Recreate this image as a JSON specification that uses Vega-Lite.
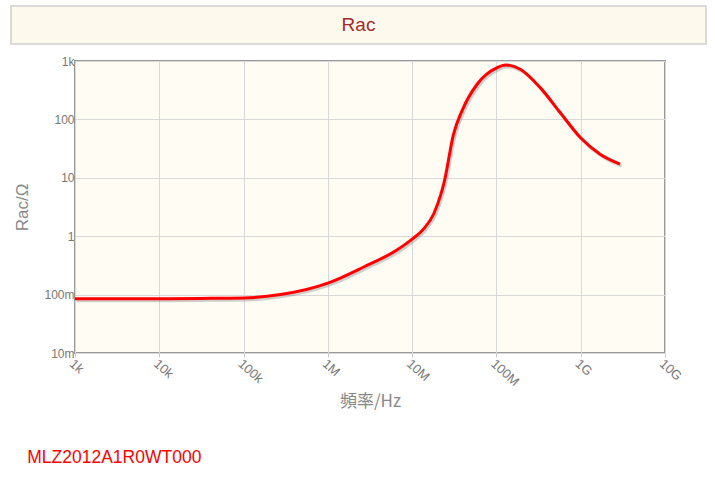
{
  "$schema": "https://vega.github.io/schema/vega-lite/v6.json",
  "padding": {"left": 10, "top": 5, "right": 10, "bottom": 5},
  "background": "white",
  "spacing": 9,
  "config": {"font": "Liberation Sans"},
  "title": {
    "text": "MLZ2012A1R0WT000",
    "orient": "bottom",
    "anchor": "start",
    "color": "#ff0000",
    "fontSize": 17.5,
    "fontWeight": "normal",
    "font": "Liberation Sans",
    "dx": 17,
    "offset": 39
  },
  "vconcat": [
    {
      "width": 695,
      "height": 38,
      "view": {"fill": "#fdf9ec", "stroke": "#d0d0d0", "strokeWidth": 1.5},
      "data": {"values": [{"label": "Rac"}]},
      "mark": {"type": "text", "fontSize": 19, "color": "#a52a2a", "font": "Liberation Sans Narrow, Liberation Sans"},
      "encoding": {"text": {"field": "label"}}
    },
    {
      "spacing": 0,
      "hconcat": [
        {
          "width": 1,
          "height": 1,
          "view": {"stroke": null, "fill": null},
          "data": {"values": [{"label": ""}]},
          "mark": {"type": "text"},
          "encoding": {"text": {"field": "label"}}
        },
        {
          "width": 590,
          "height": 292,
          "view": {"fill": "#fffcf4", "stroke": "#999999", "strokeWidth": 2},
          "data": {
            "values": [
              {"freq": 1000, "rac": 0.085},
              {"freq": 10000, "rac": 0.085},
              {"freq": 30000, "rac": 0.086},
              {"freq": 100000, "rac": 0.0875},
              {"freq": 275000, "rac": 0.1},
              {"freq": 1000000, "rac": 0.157},
              {"freq": 2700000, "rac": 0.3},
              {"freq": 6600000, "rac": 0.58},
              {"freq": 10000000, "rac": 0.89},
              {"freq": 13800000, "rac": 1.35},
              {"freq": 18000000, "rac": 2.4},
              {"freq": 21900000, "rac": 5.2},
              {"freq": 23800000, "rac": 8},
              {"freq": 31000000, "rac": 56},
              {"freq": 39000000, "rac": 140},
              {"freq": 59000000, "rac": 400},
              {"freq": 102000000, "rac": 768},
              {"freq": 128000000, "rac": 855},
              {"freq": 192000000, "rac": 722},
              {"freq": 331000000, "rac": 350},
              {"freq": 570000000, "rac": 131},
              {"freq": 990000000, "rac": 49},
              {"freq": 1700000000, "rac": 25.4},
              {"freq": 2930000000, "rac": 17.2}
            ]
          },
          "encoding": {
            "x": {
              "field": "freq",
              "type": "quantitative",
              "scale": {"type": "log", "domain": [1000, 10000000000]},
              "axis": {
                "values": [1000, 10000, 100000, 1000000, 10000000, 100000000, 1000000000, 10000000000],
                "format": "~s",
                "labelAngle": 42,
                "labelAlign": "left",
                "labelBaseline": "top",
                "labelFontSize": 13,
                "labelFont": "Liberation Sans Narrow, Liberation Sans",
                "labelColor": "#777777",
                "labelPadding": 0,
                "labelFlush": false,
                "labelOverlap": false,
                "tickSize": 4,
                "tickColor": "#cccccc",
                "domain": false,
                "gridColor": "#d8d8d8",
                "title": "頻率/Hz",
                "titleFont": "Liberation Sans Narrow, Noto Sans CJK JP",
                "titleFontSize": 17,
                "titleColor": "#888888",
                "titleFontWeight": "normal",
                "titlePadding": 5
              }
            },
            "y": {
              "field": "rac",
              "type": "quantitative",
              "scale": {"type": "log", "domain": [0.01, 1000]},
              "axis": {
                "values": [0.01, 0.1, 1, 10, 100, 1000],
                "format": "~s",
                "labelFontSize": 12,
                "labelFont": "Liberation Sans Narrow, Liberation Sans",
                "labelColor": "#777777",
                "labelPadding": 1,
                "labelFlush": false,
                "labelOverlap": false,
                "tickSize": 0,
                "domain": false,
                "gridColor": "#d8d8d8",
                "title": "Rac/Ω",
                "titleFont": "Liberation Sans Narrow, Liberation Sans",
                "titleFontSize": 17,
                "titleColor": "#888888",
                "titleFontWeight": "normal",
                "titlePadding": 12
              }
            }
          },
          "layer": [
            {
              "mark": {"type": "line", "color": "#777777", "opacity": 0.35, "strokeWidth": 3, "interpolate": "monotone", "xOffset": 1.5, "yOffset": 2}
            },
            {
              "mark": {"type": "line", "color": "#ff0000", "strokeWidth": 3, "interpolate": "monotone"}
            }
          ]
        }
      ]
    }
  ]
}
